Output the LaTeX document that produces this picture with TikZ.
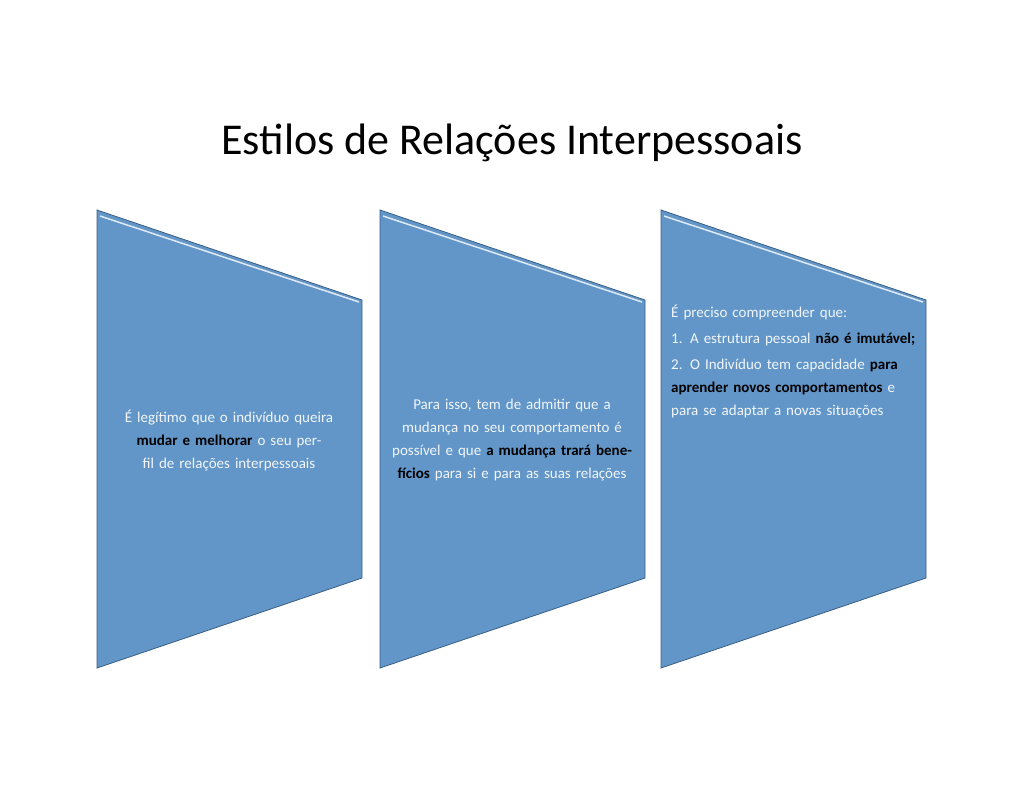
\documentclass[tikz,border=0pt]{standalone}
\usepackage{fontspec}
\setmainfont{Carlito}
\definecolor{pfill}{HTML}{6296C8}
\definecolor{pedge}{HTML}{3A5F85}
\definecolor{ptext}{HTML}{F2F6FA}
\begin{document}
\begin{tikzpicture}[x=1pt,y=-1pt,
  panel/.style={fill=pfill,draw=pedge,line width=0.8pt},
  ptxt/.style={text=ptext,font=\fontsize{15}{23}\selectfont,align=center,inner sep=0pt},
  hb/.style={}]
\newcommand{\hb}[1]{\textbf{\textcolor{black}{#1}}}
\useasboundingbox (0,0) rectangle (1024,791);
\node (title) at (512,143) {\fontsize{44}{50}\selectfont Estilos de Relações Interpessoais};
\foreach \x/\n in {97/p1,380/p2,661/p3}{
  \draw[panel] (\x,210) -- (\x+265,300) -- (\x+265,578) -- (\x,668) -- cycle;
  \draw[white,line width=1.5pt,opacity=0.8] (\x+3,216) -- (\x+262,302);
}
\node[ptxt,text width=250pt] (t1) at (229,440) {É legítimo que o indivíduo queira \hb{mudar e melhorar} o seu perfil de relações interpessoais};
\node[ptxt,text width=245pt] (t2) at (512,440) {Para isso, tem de admitir que a mudança no seu comportamento é possível e que \hb{a mudança trará benefícios} para si e para as suas relações};
\node[ptxt,text width=245pt,align=left,anchor=north west] (t3) at (671,305) {É preciso compreender que:\\[3pt]
1. A estrutura pessoal \hb{não é imutável;}\\[3pt]
2. O Indivíduo tem capacidade \hb{para aprender novos comportamentos} e para se adaptar a novas situações};
\end{tikzpicture}
\end{document}
